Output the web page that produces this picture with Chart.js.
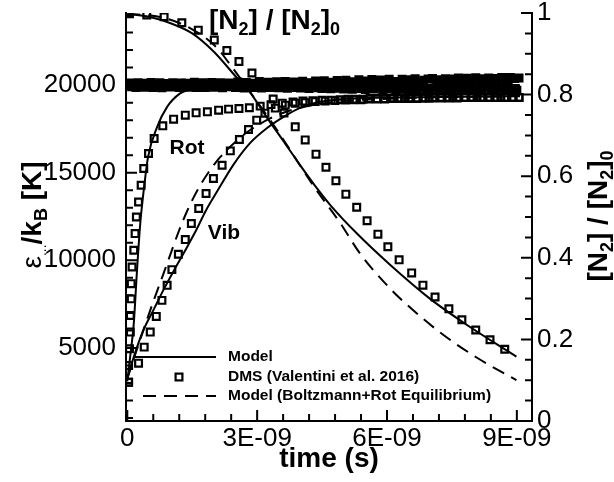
<!DOCTYPE html>
<html>
<head>
<meta charset="utf-8">
<script src="https://cdn.jsdelivr.net/npm/chart.js@4.4.1/dist/chart.umd.min.js"></script>
<style>
  html, body { margin: 0; padding: 0; background: #fff; }
</style>
</head>
<body>
<canvas id="chart" width="614" height="482"></canvas>
<script>
// time in units of 1E-09 s
const timeTicks = [0, 3, 6, 9];
const timeMinor = [0.6, 1.2, 1.8, 2.4, 3.6, 4.2, 4.8, 5.4, 6.6, 7.2, 7.8, 8.4];
const energyTicks = [5000, 10000, 15000, 20000];
const energyMinor = [1000, 2000, 3000, 4000, 6000, 7000, 8000, 9000, 11000, 12000, 13000, 14000,
  16000, 17000, 18000, 19000, 21000, 22000, 23000, 24000];
const fracTicks = [0, 0.2, 0.4, 0.6, 0.8, 1];
const fracMinor = [0.05, 0.1, 0.15, 0.25, 0.3, 0.35, 0.45, 0.5, 0.55, 0.65, 0.7, 0.75, 0.85, 0.9, 0.95];

// DMS translational temperature, written every 0.05 ns
const transStep = 0.05;
const transDmsK = [
  20000, 20120, 19900, 20060, 19860, 20140, 19950, 20080, 19880, 20110,
  19920, 20150, 19870, 20040, 19960, 20130, 19850, 20090, 19930, 20060,
  19890, 20140, 19940, 20020, 19860, 20120, 19970, 20100, 19880, 20050,
  19940, 20160, 19870, 20070, 19910, 20130, 19860, 20030, 19950, 20150,
  19880, 20090, 19920, 20140, 19850, 20060, 19990, 20120, 19900, 20080,
  19870, 20180, 19910, 20050, 19840, 20150, 19960, 20110, 19870, 20070,
  19920, 20200, 19830, 20090, 19950, 20170, 19860, 20040, 19900, 20190,
  19850, 20120, 19940, 20210, 19820, 20080, 19960, 20180, 19870, 20110,
  19830, 20220, 19900, 20140, 19810, 20100, 19970, 20230, 19850, 20060,
  19800, 20250, 19880, 20160, 19790, 20120, 19940, 20260, 19820, 20090,
  19780, 20280, 19900, 20190, 19760, 20130, 19990, 20300, 19810, 20150,
  19750, 20240, 19870, 20320, 19780, 20110, 19930, 20290, 19740, 20180,
  19790, 20330, 19860, 20210, 19720, 20150, 19960, 20340, 19770, 20240,
  19700, 20310, 19890, 20360, 19750, 20170, 19920, 20280, 19710, 20350,
  19760, 20380, 19840, 20230, 19690, 20300, 19950, 20370, 19730, 20200,
  19680, 20350, 19880, 20400, 19740, 20260, 19900, 20390, 19700, 20310,
  19720, 20420, 19850, 20280, 19670, 20360, 19930, 20410, 19690, 20250,
  19660, 20380, 19870, 20430, 19710, 20300, 19890, 20440, 19680, 20370,
  19700, 20400
];
const transModelT = [0, 9.07];
const transModelK = [20000, 20000];

const rotDmsT = [0.03, 0.03, 0.05, 0.07, 0.07, 0.09, 0.09, 0.11, 0.15, 0.18, 0.21, 0.26, 0.32, 0.38,
  0.49, 0.62, 0.82, 1.07, 1.34, 1.59, 1.85, 2.11, 2.34, 2.58, 2.82, 3.07, 3.32, 3.58, 3.83, 4.06,
  4.29, 4.50, 4.71, 4.92, 5.10, 5.28, 5.45, 5.61, 5.77, 5.93, 6.09, 6.25, 6.42, 6.55, 6.69, 6.83,
  6.97, 7.11, 7.25, 7.39, 7.52, 7.66, 7.80, 7.94, 8.08, 8.22, 8.35, 8.49, 8.63, 8.77, 8.91, 9.05];
const rotDmsK = [3046, 4000, 4954, 5903, 6857, 7800, 8669, 9617, 10571, 11526, 12474, 13331, 14286, 15240,
  16097, 16954, 17674, 18057, 18286, 18417, 18474, 18571, 18629, 18669, 18703, 18800, 18886, 18971, 19029, 19086,
  19114, 19143, 19143, 19171, 19200, 19200, 19200, 19230, 19230, 19230, 19260, 19260, 19260, 19260, 19260, 19260,
  19260, 19290, 19290, 19290, 19290, 19290, 19290, 19290, 19290, 19290, 19290, 19290, 19290, 19290, 19290, 19290];

const vibDmsT = [0.03, 0.26, 0.39, 0.53, 0.67, 0.80, 0.92, 1.03, 1.18, 1.34, 1.48, 1.65, 1.82, 1.99,
  2.19, 2.38, 2.59, 2.80, 2.99, 3.18, 3.42, 3.65, 3.88, 4.11, 4.34, 4.57, 4.80, 5.03,
  5.22, 5.40, 5.58, 5.77, 5.95, 6.14, 6.32, 6.51, 6.69, 6.88, 7.06, 7.25, 7.43, 7.62, 7.80, 7.98,
  8.17, 8.35, 8.54, 8.72, 8.91, 9.05];
const vibDmsK = [3046, 4131, 5046, 5903, 6800, 7714, 8571, 9469, 10343, 11183, 12097, 12954, 13811, 14669,
  15429, 16246, 16897, 17469, 18000, 18400, 18686, 18857, 18971, 19000, 19057, 19086, 19114, 19143,
  19170, 19170, 19200, 19200, 19200, 19230, 19230, 19230, 19230, 19260, 19260, 19260, 19260, 19260,
  19290, 19290, 19290, 19290, 19290, 19290, 19290, 19290];

const rotModelT = [0, 0.07, 0.15, 0.22, 0.30, 0.38, 0.48, 0.69, 0.92, 1.22, 1.45, 1.92, 3.0, 9.07];
const rotModelK = [3086, 4571, 6400, 9257, 12114, 14000, 15903, 17617, 18760, 19526, 19754, 19943, 19980, 19900];

const vibModelT = [0, 0.16, 0.37, 0.60, 0.83, 1.08, 1.34, 1.59, 1.82, 2.08, 2.45, 2.84, 3.23, 3.62, 3.99, 4.45, 5.38, 7.22, 9.07];
const vibModelK = [3257, 4571, 6000, 7143, 8286, 9429, 10571, 11714, 12857, 13950, 15450, 16700, 17550, 18200, 18700, 19050, 19257, 19314, 19371];

const vibBoltzT = [0, 0.30, 0.58, 0.83, 0.99, 1.18, 1.38, 1.62, 1.87, 2.15, 2.56, 2.79, 3.30, 3.83, 4.68, 6.30, 9.07];
const vibBoltzK = [3257, 5500, 7500, 9200, 10300, 11600, 12800, 14000, 15000, 15900, 16900, 17350, 18100, 18600, 19000, 19250, 19370];

const n2DmsT = [0.05, 0.45, 0.85, 1.26, 1.64, 2.01, 2.30, 2.58, 2.88, 3.14, 3.37, 3.62, 3.88, 4.11, 4.36, 4.59,
  4.82, 5.05, 5.30, 5.54, 5.79, 6.02, 6.28, 6.57, 6.83, 7.11, 7.43, 7.73, 8.05, 8.38, 8.72];
const n2DmsF = [0.998, 0.995, 0.991, 0.976, 0.958, 0.934, 0.908, 0.881, 0.853, 0.821, 0.789, 0.755, 0.721, 0.689, 0.654, 0.622,
  0.589, 0.556, 0.524, 0.491, 0.458, 0.427, 0.395, 0.363, 0.333, 0.304, 0.275, 0.248, 0.223, 0.199, 0.176];

const n2ModelT = [0, 0.5, 1.0, 1.5, 2.0, 2.5, 2.84, 3.2, 3.6, 4.0, 4.37, 4.7, 5.30, 6.07, 6.99, 7.84, 8.99];
const n2ModelF = [0.998, 0.991, 0.975, 0.950, 0.905, 0.845, 0.805, 0.748, 0.687, 0.626, 0.572, 0.528, 0.460, 0.383, 0.300, 0.236, 0.158];

const n2BoltzT = [0, 0.76, 1.45, 2.08, 2.33, 2.84, 3.46, 4.29, 4.92, 5.38, 6.07, 6.46, 7.29, 8.08, 8.99];
const n2BoltzF = [0.998, 0.990, 0.963, 0.914, 0.880, 0.806, 0.713, 0.578, 0.485, 0.410, 0.325, 0.285, 0.212, 0.155, 0.100];

const legendLabels = ['Model', 'DMS (Valentini et al. 2016)', 'Model (Boltzmann+Rot Equilibrium)'];

const FONT = "'Liberation Sans', Arial, Helvetica, sans-serif";

function pts(xs, ys) {
  return xs.map((x, i) => ({ x: x, y: ys[i] }));
}

const square = {
  showLine: false,
  pointStyle: 'rect',
  pointRadius: 4.8,
  pointBorderWidth: 2.2,
  pointBorderColor: '#000',
  pointBackgroundColor: 'rgba(0,0,0,0)',
};
function solid(axis) {
  return { showLine: true, borderColor: '#000', borderWidth: 2, pointRadius: 0, cubicInterpolationMode: 'monotone', yAxisID: axis, fill: false };
}
function dashed(axis) {
  return Object.assign(solid(axis), { borderDash: [13, 8] });
}

// draws a row of text pieces (with sub scripts) starting at x, y
function drawRuns(ctx, x, y, runs) {
  let cx = x;
  runs.forEach(r => {
    ctx.font = r.font;
    ctx.fillText(r.t, cx, y + (r.dy || 0));
    cx += ctx.measureText(r.t).width;
  });
  return cx;
}
function runsWidth(ctx, runs) {
  let w = 0;
  runs.forEach(r => { ctx.font = r.font; w += ctx.measureText(r.t).width; });
  return w;
}

const decor = {
  id: 'decor',
  afterDraw(chart) {
    const ctx = chart.ctx;
    const xs = chart.scales.x, ys = chart.scales.y, y2 = chart.scales.y2;
    const area = chart.chartArea;
    ctx.save();
    ctx.strokeStyle = '#000';
    ctx.fillStyle = '#000';
    ctx.lineWidth = 2;

    // tick marks, pointing into the plot
    const major = 11, minor = 7;
    ctx.beginPath();
    timeTicks.forEach(v => { const p = xs.getPixelForValue(v); ctx.moveTo(p, area.bottom); ctx.lineTo(p, area.bottom - major); });
    timeMinor.forEach(v => { const p = xs.getPixelForValue(v); ctx.moveTo(p, area.bottom); ctx.lineTo(p, area.bottom - minor); });
    energyTicks.forEach(v => { const p = ys.getPixelForValue(v); ctx.moveTo(area.left, p); ctx.lineTo(area.left + major, p); });
    energyMinor.forEach(v => { const p = ys.getPixelForValue(v); ctx.moveTo(area.left, p); ctx.lineTo(area.left + minor, p); });
    fracTicks.forEach(v => { const p = y2.getPixelForValue(v); ctx.moveTo(area.right, p); ctx.lineTo(area.right - major, p); });
    fracMinor.forEach(v => { const p = y2.getPixelForValue(v); ctx.moveTo(area.right, p); ctx.lineTo(area.right - minor, p); });
    ctx.stroke();

    // legend
    ctx.lineWidth = 2;
    ctx.beginPath(); ctx.moveTo(133, 357); ctx.lineTo(216, 357); ctx.stroke();
    ctx.lineWidth = 2.2;
    ctx.strokeRect(179 - 3.4, 377 - 3.4, 6.8, 6.8);
    ctx.lineWidth = 2;
    ctx.setLineDash([13, 8]);
    ctx.beginPath(); ctx.moveTo(143, 396); ctx.lineTo(216, 396); ctx.stroke();
    ctx.setLineDash([]);
    ctx.font = 'bold 15.5px ' + FONT;
    ctx.textAlign = 'left';
    ctx.textBaseline = 'middle';
    ctx.fillText(legendLabels[0], 228, 357);
    ctx.fillText(legendLabels[1], 228, 377);
    ctx.fillText(legendLabels[2], 228, 396);

    // curve labels
    ctx.font = 'bold 21px ' + FONT;
    ctx.textAlign = 'center';
    ctx.fillText('Rot', 187, 148);
    ctx.fillText('Vib', 224, 233);

    // [N2] / [N2]0 inside the plot
    ctx.textAlign = 'left';
    ctx.textBaseline = 'alphabetic';
    const big = 'bold 28px ' + FONT, sub = 'bold 18px ' + FONT;
    const n2Runs = [
      { t: '[N', font: big }, { t: '2', font: sub, dy: 6 }, { t: '] / [N', font: big },
      { t: '2', font: sub, dy: 6 }, { t: ']', font: big }, { t: '0', font: sub, dy: 6 }
    ];
    drawRuns(ctx, 209, 29, n2Runs);

    // x title
    ctx.font = big;
    ctx.textAlign = 'center';
    ctx.fillText('time (s)', 329, 467);
    ctx.textAlign = 'left';

    // right title, rotated
    ctx.save();
    const rw = runsWidth(ctx, n2Runs);
    ctx.translate(607, 216 + rw / 2);
    ctx.rotate(-Math.PI / 2);
    drawRuns(ctx, 0, 0, n2Runs);
    ctx.restore();

    // left title, rotated
    const leftRuns = [
      { t: 'ε', font: '28px ' + FONT }, { t: '...', font: '14px ' + FONT, dy: 5 },
      { t: '/k', font: big }, { t: 'B', font: sub, dy: 6 }, { t: ' [K]', font: big }
    ];
    ctx.save();
    const lw = runsWidth(ctx, leftRuns);
    ctx.translate(41, 215 + lw / 2);
    ctx.rotate(-Math.PI / 2);
    drawRuns(ctx, 0, 0, leftRuns);
    ctx.restore();

    ctx.restore();
  }
};

function noPadX(s) { s.height = 61; s.paddingLeft = 0; s.paddingRight = 0; }
function noPadY(w) { return s => { s.width = w; s.paddingTop = 0; s.paddingBottom = 0; }; }

new Chart(document.getElementById('chart'), {
  type: 'scatter',
  data: {
    datasets: [
      Object.assign({ data: transDmsK.map((k, i) => ({ x: i * transStep, y: k })), yAxisID: 'y' }, square, { pointBackgroundColor: '#000' }),
      Object.assign({ data: pts(transModelT, transModelK) }, solid('y')),
      Object.assign({ data: pts(rotDmsT, rotDmsK), yAxisID: 'y' }, square),
      Object.assign({ data: pts(vibDmsT, vibDmsK), yAxisID: 'y' }, square),
      Object.assign({ data: pts(rotModelT, rotModelK) }, solid('y')),
      Object.assign({ data: pts(vibModelT, vibModelK) }, solid('y')),
      Object.assign({ data: pts(vibBoltzT, vibBoltzK) }, dashed('y')),
      Object.assign({ data: pts(n2DmsT, n2DmsF), yAxisID: 'y2' }, square),
      Object.assign({ data: pts(n2ModelT, n2ModelF) }, solid('y2')),
      Object.assign({ data: pts(n2BoltzT, n2BoltzF) }, dashed('y2')),
    ]
  },
  options: {
    responsive: false,
    devicePixelRatio: 1,
    animation: false,
    events: [],
    layout: { padding: { top: 13, left: 0, right: 0, bottom: 0 } },
    plugins: { legend: { display: false }, tooltip: { enabled: false } },
    scales: {
      x: {
        type: 'linear', position: 'bottom', min: -0.03, max: 9.35,
        grid: { display: false, drawTicks: false },
        border: { display: true, color: '#000', width: 2 },
        afterBuildTicks: s => { s.ticks = timeTicks.map(v => ({ value: v })); },
        afterFit: noPadX,
        ticks: {
          color: '#000', padding: 2, maxRotation: 0, autoSkip: false,
          font: { family: FONT, size: 26 },
          callback: v => (v === 0 ? '0' : v + 'E-09')
        }
      },
      y: {
        type: 'linear', position: 'left', min: 830, max: 24115,
        grid: { display: false, drawTicks: false },
        border: { display: true, color: '#000', width: 2 },
        afterBuildTicks: s => { s.ticks = energyTicks.map(v => ({ value: v })); },
        afterFit: noPadY(126),
        ticks: { color: '#000', padding: 10, autoSkip: false, font: { family: FONT, size: 26 }, callback: v => String(v) }
      },
      y2: {
        type: 'linear', position: 'right', min: 0, max: 1,
        grid: { display: false, drawTicks: false },
        border: { display: true, color: '#000', width: 2 },
        afterBuildTicks: s => { s.ticks = fracTicks.map(v => ({ value: v })); },
        afterFit: noPadY(82),
        ticks: { color: '#000', padding: 5, autoSkip: false, font: { family: FONT, size: 26 }, callback: v => String(v) }
      }
    }
  },
  plugins: [decor]
});
</script>
</body>
</html>
